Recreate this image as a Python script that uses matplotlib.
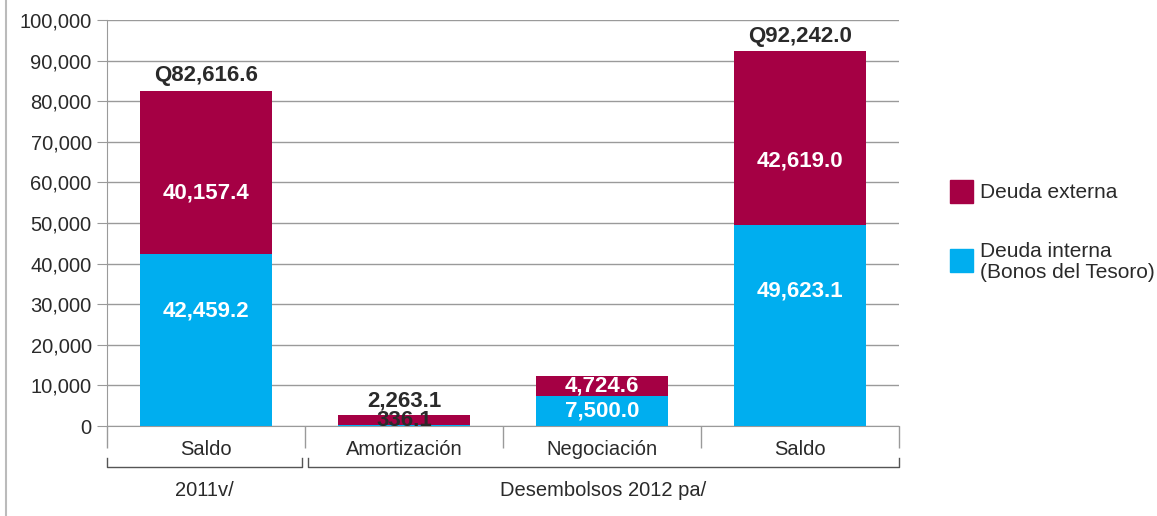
import matplotlib.pyplot as plt
from matplotlib.lines import Line2D
from matplotlib.patches import Rectangle

plt.rcParams['font.family'] = ['Liberation Sans', 'DejaVu Sans']

categorias = ["Saldo", "Amortización", "Negociación", "Saldo"]
interna = [42459.2, 336.1, 7500.0, 49623.1]
externa = [40157.4, 2263.1, 4724.6, 42619.0]
totales = ["Q82,616.6", None, None, "Q92,242.0"]
grupos = ["2011v/", "Desembolsos 2012 pa/"]
yticks = list(range(0, 100001, 10000))

rojo = "#A50044"
azul = "#00AEEF"
gris = "#9a9a9a"
texto = "#2a2a2a"

fig = plt.figure(figsize=(11.57, 5.16), dpi=100)
ax = fig.add_axes([107/1157, 1-426/516, 792/1157, 406/516])

x = range(len(categorias))
ax.bar(x, interna, width=0.667, color=azul, zorder=3)
ax.bar(x, externa, bottom=interna, width=0.667, color=rojo, zorder=3)

ax.set_xlim(-0.5, 3.5)
ax.set_ylim(0, 100000)
ax.set_yticks(yticks)
ax.set_yticklabels([f"{v:,}" for v in yticks], fontsize=14.5, color=texto)
ax.tick_params(axis="y", length=7, color=gris, pad=4)
ax.grid(axis="y", color=gris, linewidth=1, zorder=0)

ax.set_xticks([-0.5, 0.5, 1.5, 2.5, 3.5])
ax.set_xticklabels([])
ax.set_xticks(list(x), minor=True)
ax.set_xticklabels(categorias, minor=True, fontsize=14.5, color=texto)
ax.tick_params(axis="x", which="major", length=16, color=gris, width=1)
ax.tick_params(axis="x", which="minor", length=0, pad=10)

for s in ["top", "right"]:
    ax.spines[s].set_visible(False)
for s in ["left", "bottom"]:
    ax.spines[s].set_color(gris)

# etiquetas de valores
fs = 16
for i in x:
    total = interna[i] + externa[i]
    if totales[i]:
        ax.text(i, interna[i] * 0.67, f"{interna[i]:,.1f}", ha="center", va="center",
                color="white", fontsize=fs, fontweight="bold", zorder=4)
        ax.text(i, interna[i] + externa[i] * 0.37, f"{externa[i]:,.1f}", ha="center", va="center",
                color="white", fontsize=fs, fontweight="bold", zorder=4)
        ax.annotate(totales[i], (i, total), xytext=(0, 3), textcoords="offset points",
                    ha="center", va="bottom", fontsize=fs, fontweight="bold", color=texto)
    elif total > 5000:
        ax.text(i, interna[i] / 2, f"{interna[i]:,.1f}", ha="center", va="center",
                color="white", fontsize=fs, fontweight="bold", zorder=4)
        ax.text(i, interna[i] + externa[i] / 2, f"{externa[i]:,.1f}", ha="center", va="center",
                color="white", fontsize=fs, fontweight="bold", zorder=4)
    else:
        ax.text(i, interna[i] + externa[i] / 2, f"{interna[i]:,.1f}", ha="center", va="center",
                color=texto, fontsize=fs, fontweight="bold", zorder=4)
        ax.annotate(f"{externa[i]:,.1f}", (i, total), xytext=(0, 3), textcoords="offset points",
                    ha="center", va="bottom", fontsize=fs, fontweight="bold", color=texto)

# corchetes de grupos
tr = ax.get_xaxis_transform()
for x0, x1, lab in [(-0.5, 0.485, grupos[0]), (0.515, 3.5, grupos[1])]:
    ax.plot([x0, x0, x1, x1], [-0.079, -0.101, -0.101, -0.079], transform=tr,
            color="#555555", linewidth=1, clip_on=False)
    ax.text((x0 + x1) / 2, -0.158, lab, transform=tr, ha="center", va="center",
            fontsize=14.5, color=texto)

# leyenda
fig.add_artist(Rectangle((950/1157, 1-203/516), 23/1157, 23/516, color=rojo,
                         transform=fig.transFigure))
fig.add_artist(Rectangle((950/1157, 1-272/516), 23/1157, 23/516, color=azul,
                         transform=fig.transFigure))
fig.text(980/1157, 1-192/516, "Deuda externa", fontsize=15, va="center", color=texto)
fig.text(980/1157, 1-262/516, "Deuda interna\n(Bonos del Tesoro)", fontsize=15, va="center",
         color=texto, linespacing=1.1)

fig.add_artist(Line2D([6/1157, 6/1157], [0, 1], color="#bbbbbb", linewidth=1.5))

fig.savefig("out.png", dpi=100)
